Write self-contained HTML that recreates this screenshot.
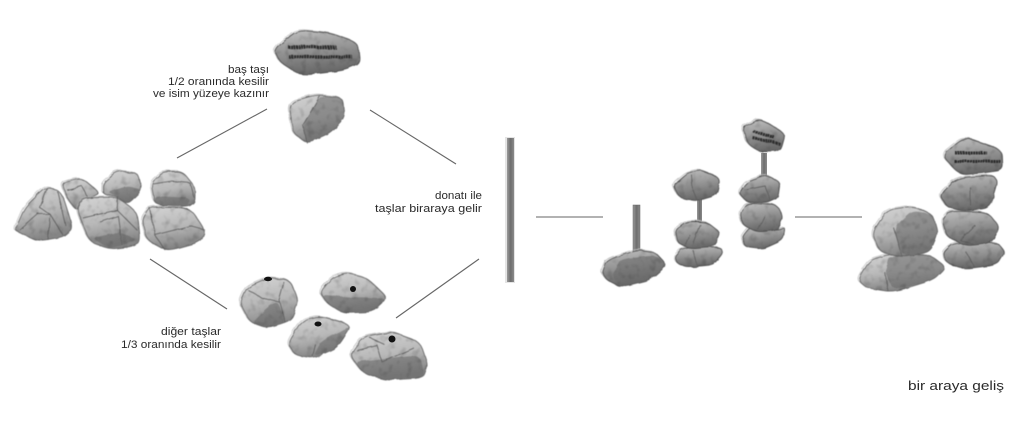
<!DOCTYPE html>
<html lang="tr"><head><meta charset="utf-8"><title>bir araya geliş</title>
<style>
html,body{margin:0;padding:0;background:#fff;width:1024px;height:421px;overflow:hidden}
svg{display:block}
text{font-family:"Liberation Sans",sans-serif;fill:#2a2a2a;font-size:11px}
.l{stroke:#666;stroke-width:1.1;fill:none}
.a .rock{stroke:#666;stroke-width:.9;stroke-linejoin:round;fill:url(#lite)}
.b .rock{stroke:#4f4f4f;stroke-width:.9;stroke-linejoin:round;fill:url(#dark)}
.a polyline,.b polyline{fill:none;stroke:#5c5c5c;stroke-width:.8}
.s{fill:#666;fill-opacity:.55;stroke:none}
.h{fill:none;stroke:#b5b5b5;stroke-width:.7}
.e{stroke:#2a2a2a;fill:none;stroke-dasharray:2 .6}
</style></head><body>
<svg id="art" width="1024" height="421" viewBox="0 0 1024 421" xmlns="http://www.w3.org/2000/svg">
<defs>
<linearGradient id="lite" x1="0" y1="0" x2=".25" y2="1"><stop offset="0" stop-color="#d4d4d4"/><stop offset=".55" stop-color="#b8b8b8"/><stop offset="1" stop-color="#858585"/></linearGradient>
<linearGradient id="dark" x1="0" y1="0" x2=".2" y2="1"><stop offset="0" stop-color="#c0c0c0"/><stop offset=".5" stop-color="#949494"/><stop offset="1" stop-color="#696969"/></linearGradient>
<linearGradient id="rod" x1="0" y1="0" x2="1" y2="0"><stop offset="0" stop-color="#9a9a9a"/><stop offset=".5" stop-color="#6d6d6d"/><stop offset="1" stop-color="#8a8a8a"/></linearGradient>
<filter id="r" x="-5%" y="-5%" width="110%" height="110%" color-interpolation-filters="sRGB">
<feTurbulence type="fractalNoise" baseFrequency=".09" numOctaves="2" seed="4" result="warp"/>
<feDisplacementMap in="SourceGraphic" in2="warp" scale="3" result="d"/>
<feTurbulence type="fractalNoise" baseFrequency=".14" numOctaves="2" seed="9"/>
<feColorMatrix type="matrix" values=".45 0 0 0 .78  .45 0 0 0 .78  .45 0 0 0 .78  0 0 0 0 1" result="n"/>
<feComposite in="n" in2="d" operator="in" result="nc"/>
<feBlend in="d" in2="nc" mode="multiply"/>
<feGaussianBlur stdDeviation=".55"/>
</filter>
</defs>

<!-- connectors -->
<line class="l" x1="267" y1="109" x2="177" y2="158"/>
<line class="l" x1="370" y1="110" x2="456" y2="164"/>
<line class="l" x1="150" y1="259" x2="227" y2="309"/>
<line class="l" x1="396" y1="318" x2="479" y2="259"/>
<line class="l" x1="536" y1="217" x2="603" y2="217" stroke-width="1.3"/>
<line class="l" x1="795" y1="217" x2="862" y2="217" stroke-width="1.3"/>

<!-- left pile -->
<g class="a" filter="url(#r)">
<polygon class="rock" points="15,230 25,207 47,186 62,193 73,228 63,237 38,241 20,233"/>
<polyline points="47,188 40,208 50,214 48,240"/><polyline points="20,230 38,214 50,214 63,235"/><polyline points="58,192 66,226"/>
<polygon class="rock" points="62,183 82,178 100,193 90,198 77,211 67,198"/>
<polyline points="67,190 82,186 88,198"/>
<polygon class="rock" points="103,183 118,171 138,173 142,190 128,204 117,197 103,194"/>
<polygon class="s" points="108,192 128,186 142,190 128,204 117,197"/>
<polygon class="rock" points="151,183 163,172 183,172 195,187 195,202 188,207 155,205"/>
<polyline points="153,184 172,181 190,183 194,198"/>
<polygon class="s" points="155,196 190,198 188,207 155,205"/>
<polygon class="rock" points="142,220 150,207 190,208 205,230 200,242 167,251 147,240"/>
<polyline points="150,208 155,235 190,226 205,230"/><polyline points="155,235 165,250"/>
<polygon class="rock" points="77,210 83,198 117,197 137,212 140,242 130,247 110,249 90,242"/>
<polyline points="83,218 117,210 118,197"/><polyline points="100,222 118,216 122,245"/><polyline points="117,210 137,230"/>
<polygon class="s" points="92,238 120,232 138,240 110,249"/>
</g>

<!-- head stone -->
<g class="b" filter="url(#r)">
<polygon class="rock" points="274,50 297,30 330,33 358,43 360,63 343,70 300,75 280,62"/>
<line class="e" x1="288" y1="47" x2="336" y2="47" stroke-width="3.5"/>
<line class="e" x1="289" y1="57" x2="352" y2="57" stroke-width="3.5"/>
</g>
<g class="a" filter="url(#r)">
<polygon class="rock" points="289,103 317,95 343,98 345,117 330,133 307,143 293,133"/>
<polygon class="s" points="320,96 343,98 345,117 330,133 307,143 303,125"/>
<polyline points="320,96 303,125 307,143"/>
</g>

<!-- cut stones -->
<g class="a" filter="url(#r)">
<polygon class="rock" points="240,303 247,287 267,278 290,280 298,300 292,320 267,328 250,322"/>
<polygon class="s" points="252,322 270,305 278,302 285,323 267,328"/>
<polyline points="284,282 279,300 285,322"/><polyline points="248,290 262,298 279,302"/>
<polygon class="rock" points="320,292 333,277 348,273 367,278 388,298 373,312 343,313 327,303"/>
<polygon class="s" points="322,294 345,297 388,298 373,312 343,313 327,303"/>
<polygon class="rock" points="288,343 303,320 320,316 352,325 337,348 313,358 295,355"/>
<polygon class="s" points="313,356 320,342 352,325 337,348"/>
<polyline points="315,344 312,356"/>
<polygon class="rock" points="350,355 363,337 393,332 420,342 428,365 423,378 387,380 363,373"/>
<polygon class="s" points="356,362 377,360 420,355 425,378 387,380 363,373"/>
<polyline points="356,350 377,345 382,362 414,348"/><polyline points="370,338 385,345"/>
</g>
<g fill="#111">
<ellipse cx="268" cy="279" rx="4" ry="2.2"/>
<circle cx="353" cy="289" r="3"/>
<ellipse cx="318" cy="324" rx="3.5" ry="2.5"/>
<circle cx="392" cy="339" r="3.5"/>
</g>

<!-- rebar -->
<rect x="505" y="137" width="10" height="146" fill="#e4e4e4"/>
<rect x="507" y="138" width="7" height="144" fill="url(#rod)"/>

<!-- assembly steps -->
<rect x="633" y="205" width="7" height="48" fill="url(#rod)" stroke="#666" stroke-width=".5"/>
<rect x="697" y="199" width="5" height="24" fill="url(#rod)"/>
<rect x="761" y="153" width="6" height="23" fill="url(#rod)"/>
<g class="b" filter="url(#r)">
<polygon class="rock" points="602,273 607,260 637,250 655,252 667,265 650,280 620,287 607,280"/>
<polygon class="s" points="620,260 655,255 667,265 650,280 620,287 612,275"/>
<polygon class="rock" points="673,185 687,173 700,170 720,178 717,195 697,201 680,198"/>
<polyline points="692,175 693,190 697,200"/>
<polygon class="rock" points="675,257 683,248 720,247 723,253 713,265 687,267 677,263"/>
<polyline points="693,250 697,266"/>
<polygon class="rock" points="675,230 687,222 707,222 721,233 713,247 690,249 678,243"/>
<polyline points="690,235 686,245"/><polyline points="700,224 692,246"/>
<polygon class="rock" points="743,127 760,119 785,133 780,151 760,152 747,143"/>
<line class="e" x1="753" y1="131" x2="775" y2="138" stroke-width="3"/>
<line class="e" x1="753" y1="138" x2="780" y2="144" stroke-width="3"/>
<polygon class="rock" points="742,237 750,227 777,230 785,227 783,240 763,249 745,247"/>
<polygon class="rock" points="740,213 747,203 777,205 783,217 777,230 757,232 743,225"/>
<polyline points="765,215 758,230"/>
<polygon class="rock" points="739,193 747,182 767,175 780,182 778,198 767,203 747,202"/>
<polyline points="745,190 765,186 770,200"/>
</g>

<!-- final -->
<g class="a" filter="url(#r)">
<polygon class="rock" points="858,280 870,260 890,254 930,255 946,267 933,280 893,292 867,288"/>
<polyline points="885,272 888,291"/>
<polygon class="s" points="890,255 930,255 946,267 933,280 893,290 885,272"/>
<polygon class="rock" points="872,233 887,210 913,206 933,215 938,233 930,252 903,257 880,252"/>
<polygon class="s" points="894,228 912,210 933,215 938,233 930,252 903,257"/>
<polyline points="894,228 902,256"/>
</g>
<g class="b" filter="url(#r)">
<polygon class="rock" points="943,253 953,243 997,242 1005,252 997,265 963,269 947,263"/>
<polyline points="966,252 975,268"/>
<polygon class="rock" points="942,220 950,211 987,212 1000,227 990,243 967,246 947,237"/>
<polyline points="975,225 960,240 975,245"/>
<polygon class="rock" points="940,195 957,178 993,175 998,182 990,208 963,211 947,207"/>
<polyline points="970,187 970,205"/>
<polygon class="rock" points="942,155 965,137 1002,150 1003,170 983,173 960,175"/>
<line class="e" x1="955" y1="153" x2="987" y2="153" stroke-width="3"/>
<line class="e" x1="954" y1="161" x2="1000" y2="161" stroke-width="3"/>
</g>

<!-- labels -->
<text x="228" y="73" textLength="41" lengthAdjust="spacingAndGlyphs">baş taşı</text>
<text x="168" y="85" textLength="101" lengthAdjust="spacingAndGlyphs">1/2 oranında kesilir</text>
<text x="153" y="97" textLength="116" lengthAdjust="spacingAndGlyphs">ve isim yüzeye kazınır</text>
<text x="435" y="199" textLength="47" lengthAdjust="spacingAndGlyphs">donatı ile</text>
<text x="375" y="212" textLength="107" lengthAdjust="spacingAndGlyphs">taşlar biraraya gelir</text>
<text x="161" y="335" textLength="60" lengthAdjust="spacingAndGlyphs">diğer taşlar</text>
<text x="121" y="348" textLength="100" lengthAdjust="spacingAndGlyphs">1/3 oranında kesilir</text>
<text x="908" y="390" textLength="96" lengthAdjust="spacingAndGlyphs" style="font-size:13px">bir araya geliş</text>
</svg>
<script>
(function(){
var NS="http://www.w3.org/2000/svg";
var ps=document.querySelectorAll("#art g polygon");
for(var k=0;k<ps.length;k++){
  var el=ps[k],a=el.getAttribute("points").trim().split(/\s+/).map(function(s){return s.split(",").map(Number)});
  var n=a.length,f=0.3,d="";
  for(var i=0;i<n;i++){
    var p=a[i],q=a[(i+n-1)%n],r=a[(i+1)%n];
    var sx=p[0]+(q[0]-p[0])*f,sy=p[1]+(q[1]-p[1])*f,ex=p[0]+(r[0]-p[0])*f,ey=p[1]+(r[1]-p[1])*f;
    d+=(i?"L":"M")+sx.toFixed(1)+" "+sy.toFixed(1)+"Q"+p[0]+" "+p[1]+" "+ex.toFixed(1)+" "+ey.toFixed(1);
  }
  d+="Z";
  var path=document.createElementNS(NS,"path");
  path.setAttribute("d",d);
  path.setAttribute("class",el.getAttribute("class"));
  if(el.getAttribute("class")==="rock"){
    var h=document.createElementNS(NS,"path");
    h.setAttribute("d",d);h.setAttribute("class","h");
    h.setAttribute("transform","translate(-1.5 -1)");
    el.parentNode.insertBefore(h,el);
  }
  el.parentNode.replaceChild(path,el);
}
})();
</script>
</body></html>
